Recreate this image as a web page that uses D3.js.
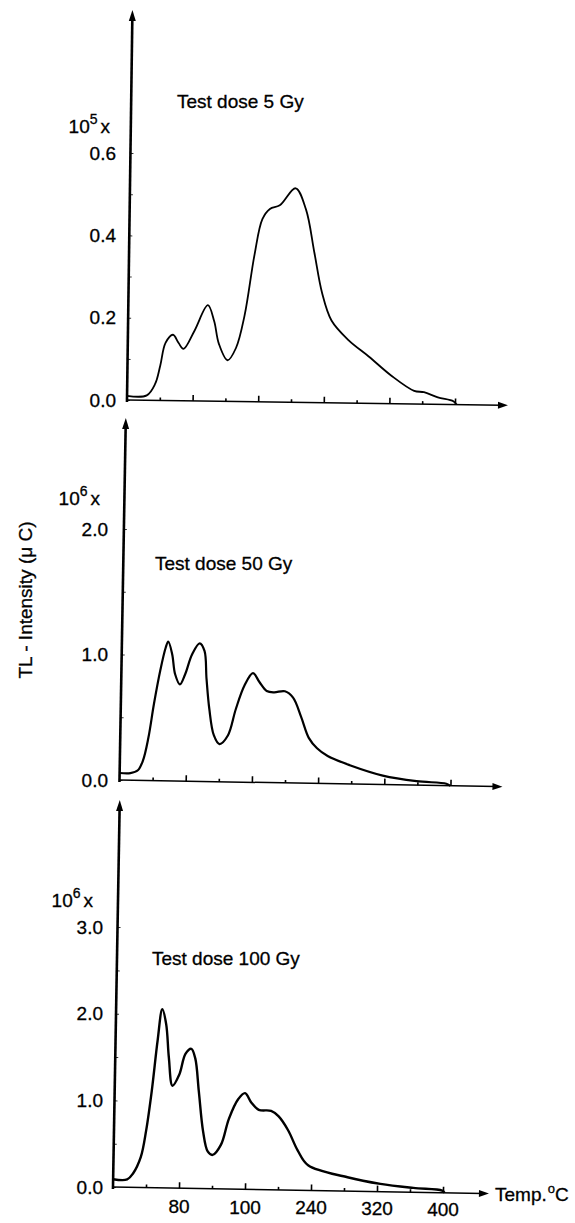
<!DOCTYPE html>
<html>
<head>
<meta charset="utf-8">
<script src="https://cdn.jsdelivr.net/npm/d3@7"></script>
<style>
body{margin:0;background:#fff}
svg{display:block;font-family:"Liberation Sans",Arial,sans-serif}
text{fill:#000;stroke:#000;stroke-width:0.3}
</style>
</head>
<body>
<svg id="chart"></svg>
<script>
// glow curves: temperature (deg C) and TL intensity
let temp5 = [0, 24, 34, 40, 46, 55, 62, 68, 81, 97, 105, 111, 122, 132, 142, 153, 162, 171, 183, 202, 215, 226, 236, 248, 269, 294, 322, 350, 362, 379, 398, 402]
let tl5 = [0.01, 0.012, 0.04, 0.085, 0.14, 0.16, 0.14, 0.126, 0.17, 0.233, 0.194, 0.14, 0.10, 0.13, 0.21, 0.357, 0.444, 0.469, 0.478, 0.52, 0.469, 0.364, 0.267, 0.2, 0.153, 0.114, 0.068, 0.032, 0.029, 0.017, 0.008, 0]

let temp50 = [0, 13, 22, 28, 34, 40, 47, 53, 56, 61, 65, 71, 77, 85, 94, 100, 103, 107, 113, 120, 130, 139, 149, 159, 167, 176, 185, 198, 208, 218, 228, 238, 251, 278, 318, 359, 395, 400]
let tl50 = [0.056, 0.056, 0.08, 0.16, 0.34, 0.61, 0.88, 1.06, 1.11, 1.01, 0.85, 0.77, 0.85, 1.01, 1.10, 1.04, 0.82, 0.58, 0.37, 0.30, 0.37, 0.58, 0.77, 0.87, 0.80, 0.73, 0.72, 0.73, 0.68, 0.53, 0.36, 0.28, 0.22, 0.15, 0.072, 0.032, 0.016, 0]

let temp100 = [0, 17, 24, 33, 39, 45, 51, 56, 61, 65, 70, 78, 85, 92, 97, 102, 108, 114, 120, 130, 139, 150, 158, 166, 175, 190, 199, 211, 223, 236, 284, 324, 364, 399, 402]
let tl100 = [0.09, 0.09, 0.16, 0.35, 0.66, 1.12, 1.70, 2.06, 1.89, 1.50, 1.18, 1.31, 1.55, 1.61, 1.50, 1.12, 0.66, 0.43, 0.39, 0.51, 0.81, 1.04, 1.11, 1.0, 0.92, 0.91, 0.85, 0.69, 0.46, 0.29, 0.16, 0.09, 0.05, 0.025, 0]

//x ticks every 40 deg, labels only on the bottom panel (as printed)
let xMajor = [80, 160, 240, 320, 400]
let xMinor = [40, 120, 200, 280, 360]
let xTickLabels = ['80', '100', '240', '320', '400']

let yTicks5 = [0, 0.2, 0.4, 0.6]
let yMinor5 = [0.1, 0.3, 0.5]
let yTicks50 = [0, 1, 2]
let yMinor50 = [0.5, 1.5]
let yTicks100 = [0, 1, 2, 3]
let yMinor100 = [0.5, 1.5, 2.5]

let doses = ['Test dose 5 Gy', 'Test dose 50 Gy', 'Test dose 100 Gy']
let exponents = ['5', '6', '6']

let width = 575
let height = 1223

let svg = d3.select('#chart')
svg.attr('width', width).attr('height', height)

//where each panel sits on the page
let panels = [
    {x0: 127, y0: 400, step: 32.8, yTop: 0.6, yTopPx: 153, axisTop: 10, axisLen: 381, tilt: 0.8,
     labelRight: 116, expRight: 110, expBase: 133, titleX: 177, titleBase: 108, lw: 1.8},
    {x0: 119.5, y0: 780, step: 33.1, yTop: 2, yTopPx: 529, axisTop: 418, axisLen: 383, tilt: 1,
     labelRight: 108, expRight: 100, expBase: 505, titleX: 155, titleBase: 570, lw: 2.2},
    {x0: 113, y0: 1187, step: 33, yTop: 3, yTopPx: 927, axisTop: 800, axisLen: 376, tilt: 1,
     labelRight: 103, expRight: 93, expBase: 907, titleX: 152, titleBase: 965, lw: 2.4}
]

let series = [[temp5, tl5], [temp50, tl50], [temp100, tl100]]
let yTickSets = [[yTicks5, yMinor5], [yTicks50, yMinor50], [yTicks100, yMinor100]]

let drawPanel = (p, i) => {
    let xScale = d3.scaleLinear().domain([0, 400]).range([p.x0, p.x0 + 10 * p.step])
    let yScale = d3.scaleLinear().domain([0, p.yTop]).range([p.y0, p.yTopPx])

    //scan is slightly rotated, so the plot group is too
    let g = svg.append('g').attr('transform', 'rotate(' + p.tilt + ',' + p.x0 + ',' + p.y0 + ')')

    //small marks on the right of the y axis
    let yAx = g.append('g')
        .attr('transform', 'translate(' + p.x0 + ',0)')
        .call(d3.axisRight(yScale).tickValues(yTickSets[i][0].concat(yTickSets[i][1])).tickSize(3).tickFormat(''))
    yAx.select('.domain').remove()
    yAx.selectAll('line').attr('stroke', '#333').attr('stroke-width', 1)

    //x ticks pointing up
    let xMaj = g.append('g')
        .attr('transform', 'translate(0,' + p.y0 + ')')
        .call(d3.axisBottom(xScale).tickValues(xMajor).tickSizeInner(-6).tickSizeOuter(0).tickFormat(''))
    xMaj.select('.domain').remove()
    xMaj.selectAll('line').attr('stroke', '#000').attr('stroke-width', 1.6)
    let xMin = g.append('g')
        .attr('transform', 'translate(0,' + p.y0 + ')')
        .call(d3.axisBottom(xScale).tickValues(xMinor).tickSizeInner(-3).tickSizeOuter(0).tickFormat(''))
    xMin.select('.domain').remove()
    xMin.selectAll('line').attr('stroke', '#000').attr('stroke-width', 1.6)

    //axis lines with arrow heads
    g.append('line')
        .attr('x1', p.x0).attr('y1', p.y0 + 2)
        .attr('x2', p.x0).attr('y2', p.axisTop + 6)
        .attr('stroke', '#000').attr('stroke-width', 2.6)
    g.append('path')
        .attr('d', 'M' + (p.x0 - 3.5) + ',' + (p.axisTop + 11) + 'L' + p.x0 + ',' + p.axisTop + 'L' + (p.x0 + 3.5) + ',' + (p.axisTop + 11) + 'Z')
        .attr('fill', '#000')
    let xEnd = p.x0 + p.axisLen
    g.append('line')
        .attr('x1', p.x0).attr('y1', p.y0)
        .attr('x2', xEnd - 6).attr('y2', p.y0)
        .attr('stroke', '#000').attr('stroke-width', 1.5)
    g.append('path')
        .attr('d', 'M' + xEnd + ',' + p.y0 + 'L' + (xEnd - 10) + ',' + (p.y0 - 3.5) + 'L' + (xEnd - 10) + ',' + (p.y0 + 3.5) + 'Z')
        .attr('fill', '#000')

    //glow curve
    let line = d3.line()
        .x(d => xScale(d[0]))
        .y(d => yScale(d[1]))
        .curve(d3.curveCatmullRom)
    g.append('path')
        .datum(d3.zip(series[i][0], series[i][1]))
        .attr('d', line)
        .attr('fill', 'none')
        .attr('stroke', '#000')
        .attr('stroke-width', p.lw)
        .attr('stroke-linejoin', 'round')

    //y tick labels
    svg.append('g').selectAll('text')
        .data(yTickSets[i][0])
        .enter()
        .append('text')
        .attr('x', p.labelRight)
        .attr('y', d => yScale(d))
        .attr('dy', '0.35em')
        .attr('text-anchor', 'end')
        .attr('font-size', 19)
        .text(d => d3.format('.1f')(d))

    //10^n x multiplier
    let ex = svg.append('text')
        .attr('x', p.expRight).attr('y', p.expBase)
        .attr('text-anchor', 'end')
        .attr('font-size', 19)
    ex.append('tspan').text('10')
    ex.append('tspan').attr('font-size', 14).attr('dy', -9).text(exponents[i])
    ex.append('tspan').attr('dy', 9).attr('dx', 3).text('x')

    svg.append('text')
        .attr('x', p.titleX).attr('y', p.titleBase)
        .attr('font-size', 19)
        .text(doses[i])

    //temperature labels on the bottom panel only
    if (i === panels.length - 1) {
        svg.append('g').selectAll('text')
            .data(xMajor)
            .enter()
            .append('text')
            .attr('x', d => xScale(d))
            .attr('y', d => p.y0 + 25 + (xScale(d) - p.x0) * 0.012)
            .attr('text-anchor', 'middle')
            .attr('font-size', 19)
            .text((d, k) => xTickLabels[k])
        let tl = svg.append('text')
            .attr('x', xEnd + 6).attr('y', p.y0 + 14)
            .attr('font-size', 19)
        tl.append('tspan').text('Temp.')
        tl.append('tspan').attr('font-size', 13).attr('dy', -8).attr('dx', 1).text('o')
        tl.append('tspan').attr('dy', 8).text('C')
    }
}

panels.forEach(drawPanel)

svg.append('text')
    .attr('transform', 'translate(32,600) rotate(-90)')
    .attr('text-anchor', 'middle')
    .attr('font-size', 19)
    .text('TL - Intensity (\u03bc C)')
</script>
</body>
</html>
